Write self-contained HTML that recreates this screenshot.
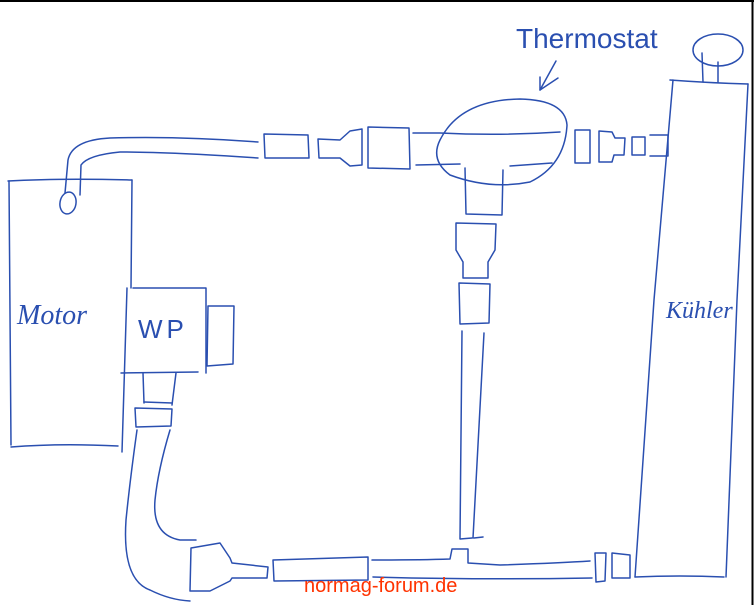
<!DOCTYPE html>
<html><head><meta charset="utf-8"><style>
html,body{margin:0;padding:0;background:#fff}
svg{display:block}
</style></head><body>
<svg width="754" height="605" viewBox="0 0 754 605" xmlns="http://www.w3.org/2000/svg">
<rect x="0" y="0" width="754" height="605" fill="#fff"/>
<line x1="0" y1="1" x2="754" y2="1" stroke="#000" stroke-width="2"/>
<line x1="752.5" y1="0" x2="752.5" y2="605" stroke="#000" stroke-width="2"/>
<g fill="none" stroke="#2a4fb0" stroke-width="1.5" stroke-linecap="round" stroke-linejoin="round">
<path d="M8 181 Q60 178 132 180"/>
<path d="M9 181 L11 445"/>
<path d="M11 447 Q60 443 118 446"/>
<path d="M132 180 L131 288"/>
<path d="M127 288 L122 452"/>
<ellipse cx="68" cy="203" rx="8" ry="11" transform="rotate(10 68 203)"/>
<path d="M65 193 L68 160 Q72 140 110 138 Q180 136 258 142"/>
<path d="M80 195 L81 165 Q88 155 120 152 Q170 152 258 158"/>
<path d="M264 134 L308 135 L309 158 L265 158 Z"/>
<path d="M318 139 L340 140 L350 131 L362 129 L362 165 L350 166 L340 158 L319 158 Z"/>
<path d="M368 127 L409 128 L410 169 L368 168 Z"/>
<path d="M413 133 L440 133 Q500 136 560 132"/>
<path d="M416 165 L460 164"/>
<path d="M510 166 L552 163"/>
<path d="M440 140 Q460 100 520 99 Q565 100 567 125 Q565 165 530 182 Q490 190 450 175 Q430 160 440 140 Z"/>
<path d="M465 168 L466 214 L502 215 L503 170"/>
<path d="M456 223 L496 224 L495 250 L488 262 L488 278 L463 278 L463 262 L456 250 Z"/>
<path d="M459 283 L490 284 L489 323 L460 324 Z"/>
<path d="M462 331 L460 539 L472 538"/>
<path d="M484 333 L473 538"/>
<path d="M474 538 L483 537"/>
<path d="M575 130 L590 130 L590 163 L575 163 Z"/>
<path d="M599 131 L612 132 L615 138 L625 138 L624 155 L614 155 L612 162 L599 162 Z"/>
<path d="M632 137 L645 137 L645 155 L632 155 Z"/>
<path d="M650 135 L668 135 L668 156 L650 156"/>
<path d="M670 80 Q710 83 748 84"/>
<path d="M673 80 L654 300 L635 577"/>
<path d="M748 84 L737 300 L726 577"/>
<path d="M635 577 Q680 575 724 577"/>
<ellipse cx="718" cy="50" rx="25" ry="16"/>
<path d="M702 53 L703 82"/>
<path d="M718 62 L718 82"/>
<path d="M556 61 L540 90 L558 78"/>
<path d="M540 90 L540 77"/>
<path d="M133 288 L206 288 L206 373"/>
<path d="M121 373 L198 372"/>
<path d="M208 306 L234 306 L233 364 L207 366 Z"/>
<path d="M143 373 L144 403"/>
<path d="M176 373 L172 405"/>
<path d="M144 402 L172 403"/>
<path d="M135 408 L172 409 L171 426 L136 427 Z"/>
<path d="M137 430 Q130 480 126 520 Q122 580 150 590 Q170 600 190 601"/>
<path d="M170 430 Q158 470 155 500 Q152 535 180 540 L196 540"/>
<path d="M191 548 L220 543 L230 558 L232 563 L268 567 L267 578 L232 578 L230 581 L210 591 L190 591 Z"/>
<path d="M273 560 L368 557 L368 580 L274 581 Z"/>
<path d="M372 560 Q420 560 450 559 L452 549 L468 549 L468 563 L500 565 Q560 563 590 561"/>
<path d="M373 577 Q480 580 592 578"/>
<path d="M595 553 L606 553 L605 581 L596 582 Z"/>
<path d="M612 553 L630 555 L630 578 L612 578 Z"/>
</g>
<g fill="#2a4fb0" font-family="Liberation Serif, serif" font-style="italic">
<text x="17" y="324" font-size="28">Motor</text>
<text x="666" y="318" font-size="24">Kühler</text>
</g>
<text x="516" y="48" font-size="28" fill="#2a4fb0" font-family="Liberation Sans, sans-serif" letter-spacing="0" transform="translate(516 48) scale(1.0 1) translate(-516 -48)">Thermostat</text>
<text x="138" y="338" font-size="26" fill="#2a4fb0" font-family="Liberation Sans, sans-serif" letter-spacing="4">WP</text>
<text x="304" y="592" font-size="20" fill="#ff3300" font-family="Liberation Sans, Arial, sans-serif">normag-forum.de</text>
</svg>
</body></html>
